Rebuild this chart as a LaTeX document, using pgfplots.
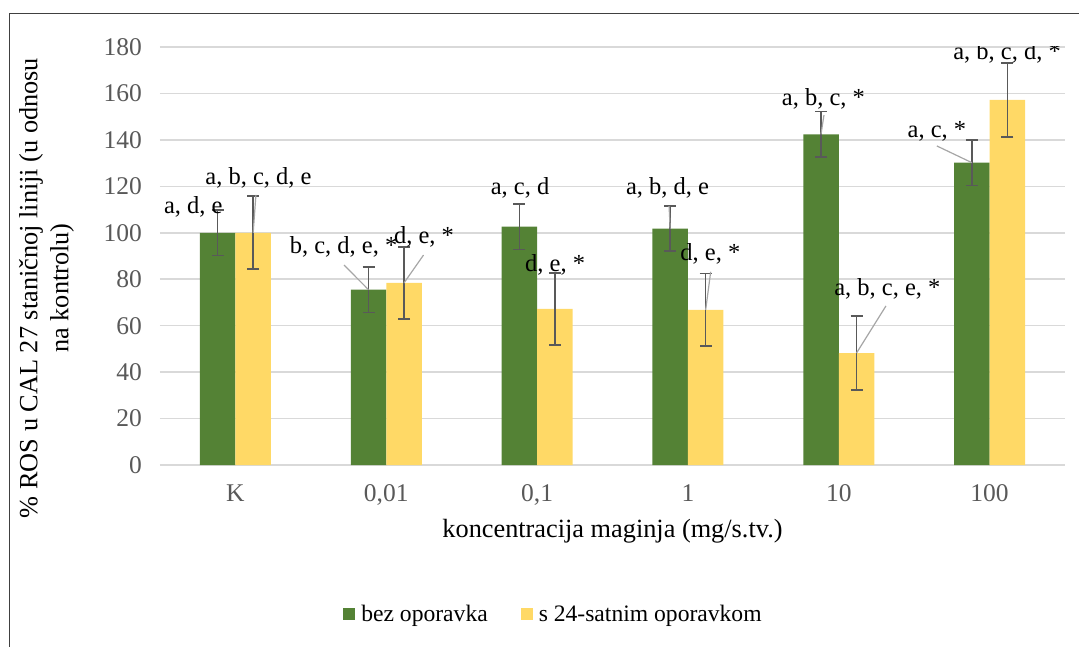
\documentclass[border=0pt]{standalone}
\usepackage{fontspec}
\setmainfont{Liberation Serif}
\newfontfamily\tnr{Liberation Serif}
\usepackage{pgfplots}
\pgfplotsset{compat=1.18}

\definecolor{zelena}{HTML}{548235}
\definecolor{zuta}{HTML}{FFD966}
\definecolor{mreza}{HTML}{D9D9D9}
\definecolor{greska}{HTML}{595959}
\definecolor{vodic}{HTML}{A6A6A6}
\definecolor{okvir}{HTML}{404040}

\newcommand{\lbl}{\tnr\fontsize{24.5}{29}\selectfont}

\pgfplotsset{
    trake/.style={draw=none,
        error bars/.cd, y dir=both, y explicit,
        error bar style={draw=greska, line width=1.5pt},
        error mark options={draw=greska, line width=1.8pt, mark size=6pt, rotate=90}},
}

\begin{document}
\begin{tikzpicture}[x=1pt,y=1pt]
\useasboundingbox (0,0) rectangle (1079,646);
% chart frame (cut at right and bottom)
\draw[okvir, line width=1.2pt] (9.5,-1) -- (9.5,632.5) -- (1080,632.5);

\begin{axis}[
    at={(160pt,181pt)}, anchor=south west,
    width=905pt, height=418pt, scale only axis,
    ybar=0pt, bar width=35.5pt,
    xmin=-0.5, xmax=5.5,
    ymin=0, ymax=180,
    ytick={0,20,...,180},
    xtick={0,...,5},
    xticklabels={K,{0,01},{0,1},1,10,100},
    ymajorgrids,
    grid style={mreza, line width=1.5pt},
    axis line style={draw=none},
    major tick length=0pt,
    /pgf/number format/assume math mode=true,
    tick label style={font=\tnr\fontsize{25.5}{30}\selectfont, text=greska, inner sep=0pt},
    yticklabel style={anchor=east, xshift=-18pt},
    xticklabel style={anchor=base, yshift=-36pt},
    xlabel={koncentracija maginja (mg/s.tv.)},
    xlabel style={at={(axis description cs:0.5,-0.1746)}, anchor=base,
        font=\tnr\fontsize{26.3}{31}\selectfont},
    ylabel={\% ROS u CAL 27 staničnoj liniji (u odnosu\\na kontrolu)},
    ylabel style={at={(axis description cs:-0.1254,0.4234)}, anchor=center,
        align=center, font=\tnr\fontsize{26.3}{31}\selectfont},
    legend columns=2,
    legend style={at={(axis description cs:0.4337,-0.356)}, anchor=center,
        draw=none, fill=none, font=\tnr\fontsize{23.6}{28}\selectfont,
        /tikz/every odd column/.append style={column sep=6pt},
        /tikz/every even column/.append style={column sep=33pt},
        inner sep=0pt, nodes={inner sep=0pt}},
    legend image code/.code={\fill[#1] (0pt,-6pt) rectangle (12pt,6pt);},
]
% bez oporavka
\addplot[fill=zelena, trake]
    coordinates {
    (0,100)   +- (0,9.8)
    (1,75.5)  +- (0,9.8)
    (2,102.6) +- (0,9.8)
    (3,101.8) +- (0,9.8)
    (4,142.4) +- (0,9.8)
    (5,130.2) +- (0,9.8)
    };
% s 24-satnim oporavkom
\addplot[fill=zuta, trake]
    coordinates {
    (0,100)   +- (0,15.7)
    (1,78.4)  +- (0,15.6)
    (2,67.2)  +- (0,15.6)
    (3,66.8)  +- (0,15.7)
    (4,48.2)  +- (0,15.8)
    (5,157.2) +- (0,15.8)
    };
\legend{bez oporavka, s 24-satnim oporavkom}

% leader lines
\draw[vodic, line width=1.2pt] (axis cs:0.136,116.3) -- ([xshift=17.75pt]axis cs:0,100);
\draw[vodic, line width=1.2pt] (axis cs:0.720,86.1) -- ([xshift=-17.75pt]axis cs:1,75.5);
\draw[vodic, line width=1.2pt] (axis cs:1.247,90.4) -- ([xshift=17.75pt]axis cs:1,78.4);
\draw[vodic, line width=1.2pt] (axis cs:2.875,111.5) -- ([xshift=-17.75pt]axis cs:3,101.8);
\draw[vodic, line width=1.2pt] (axis cs:3.151,83.2) -- ([xshift=17.75pt]axis cs:3,66.8);
\draw[vodic, line width=1.2pt] (axis cs:3.902,150.7) -- ([xshift=-17.75pt]axis cs:4,142.4);
\draw[vodic, line width=1.2pt] (axis cs:4.313,68.5) -- ([xshift=17.75pt]axis cs:4,48.2);
\draw[vodic, line width=1.2pt] (axis cs:4.650,137.4) -- ([xshift=-17.75pt]axis cs:5,130.2);

% data labels
\node[anchor=base, font=\lbl, inner sep=0pt] at (axis cs:-0.279,108.1) {a, d, e};
\node[anchor=base, font=\lbl, inner sep=0pt] at (axis cs:0.153,120.6) {a, b, c, d, e};
\node[anchor=base, font=\lbl, inner sep=0pt] at (axis cs:0.717,90.9) {b, c, d, e, *};
\node[anchor=base, font=\lbl, inner sep=0pt] at (axis cs:1.250,95.2) {d, e, *};
\node[anchor=base, font=\lbl, inner sep=0pt] at (axis cs:1.887,116.3) {a, c, d};
\node[anchor=base, font=\lbl, inner sep=0pt] at (axis cs:2.120,83.2) {d, e, *};
\node[anchor=base, font=\lbl, inner sep=0pt] at (axis cs:2.865,116.3) {a, b, d, e};
\node[anchor=base, font=\lbl, inner sep=0pt] at (axis cs:3.149,88.0) {d, e, *};
\node[anchor=base, font=\lbl, inner sep=0pt] at (axis cs:3.898,155.0) {a, b, c, *};
\node[anchor=base, font=\lbl, inner sep=0pt] at (axis cs:4.322,73.2) {a, b, c, e, *};
\node[anchor=base, font=\lbl, inner sep=0pt] at (axis cs:4.651,141.1) {a, c, *};
\node[anchor=base, font=\lbl, inner sep=0pt] at (axis cs:5.116,174.8) {a, b, c, d, *};
\end{axis}
\end{tikzpicture}
\end{document}
